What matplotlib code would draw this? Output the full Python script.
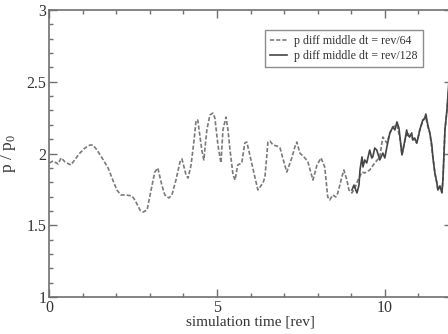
import matplotlib
matplotlib.use("Agg")
import matplotlib.pyplot as plt
from matplotlib.ticker import MultipleLocator

plt.rcParams['font.family'] = ['Liberation Serif', 'DejaVu Serif']
plt.rcParams['mathtext.fontset'] = 'custom'
plt.rcParams['mathtext.rm'] = 'Liberation Serif'

# pressure ratio, time step rev/64
t64 = [0.01, 0.12, 0.27, 0.36, 0.48, 0.65, 0.74, 0.92, 1.07, 1.22, 1.31, 1.43, 1.58, 1.76,
       1.90, 2.02, 2.14, 2.29, 2.47, 2.56, 2.71, 2.80, 2.92, 3.07, 3.15, 3.24, 3.36, 3.45,
       3.57, 3.66, 3.78, 3.90, 3.96, 4.08, 4.14, 4.23, 4.32, 4.38, 4.43, 4.55, 4.61, 4.70,
       4.79, 4.88, 4.94, 5.03, 5.12, 5.18, 5.27, 5.33, 5.39, 5.48, 5.54, 5.62, 5.74, 5.83,
       5.89, 5.98, 6.13, 6.22, 6.37, 6.43, 6.52, 6.58, 6.67, 6.79, 6.88, 6.96, 7.08, 7.23,
       7.32, 7.38, 7.47, 7.62, 7.71, 7.86, 7.98, 8.10, 8.21, 8.30, 8.36, 8.45, 8.54, 8.60,
       8.72, 8.78, 8.87, 8.93, 9.02, 9.11, 9.20, 9.32, 9.40, 9.55, 9.70, 9.85, 9.94, 10.06,
       10.15, 10.24, 10.36, 10.45, 10.51, 10.60, 10.68, 10.74, 10.83, 10.95, 11.04, 11.13,
       11.22, 11.28, 11.34, 11.43, 11.49, 11.55, 11.58, 11.64, 11.70, 11.73, 11.79, 11.85, 11.90]
p64 = [1.934, 1.948, 1.927, 1.969, 1.941, 1.920, 1.948, 2.003, 2.038, 2.059, 2.059, 2.024,
       1.969, 1.899, 1.815, 1.746, 1.711, 1.711, 1.704, 1.676, 1.606, 1.592, 1.606, 1.780,
       1.871, 1.899, 1.780, 1.711, 1.690, 1.711, 1.815, 1.941, 1.962, 1.850, 1.829, 1.920,
       2.094, 2.233, 2.233, 2.024, 1.955, 2.164, 2.268, 2.282, 2.247, 2.059, 1.934, 2.164,
       2.254, 2.164, 2.024, 1.850, 1.815, 1.920, 1.934, 2.073, 2.080, 1.990, 1.836, 1.746,
       1.794, 1.836, 2.080, 2.087, 2.059, 2.052, 2.038, 1.969, 1.871, 1.969, 2.045, 2.080,
       2.003, 1.969, 1.941, 1.815, 1.920, 1.969, 1.906, 1.697, 1.676, 1.711, 1.697, 1.725,
       1.836, 1.885, 1.815, 1.746, 1.725, 1.760, 1.815, 1.871, 1.864, 1.885, 1.934, 1.976,
       2.115, 2.073, 2.143, 2.185, 2.199, 2.108, 1.990, 2.094, 2.150, 2.115, 2.108, 2.073,
       2.164, 2.226, 2.254, 2.185, 2.143, 1.976, 1.864, 1.794, 1.746, 1.767, 1.732, 1.815,
       2.164, 2.303, 2.443]

# pressure ratio, time step rev/128
t128 = [9.02, 9.08, 9.17, 9.23, 9.26, 9.32, 9.35, 9.40, 9.46, 9.55, 9.61, 9.64, 9.70, 9.76,
        9.85, 9.94, 10.00, 10.06, 10.15, 10.24, 10.30, 10.36, 10.42, 10.45, 10.51, 10.60,
        10.65, 10.68, 10.74, 10.80, 10.83, 10.89, 10.95, 11.01, 11.04, 11.13, 11.19, 11.22,
        11.28, 11.34, 11.40, 11.43, 11.49, 11.55, 11.58, 11.64, 11.70, 11.73, 11.79, 11.85, 11.90]
p128 = [1.746, 1.780, 1.725, 1.780, 1.885, 1.976, 1.906, 1.955, 1.934, 2.024, 1.969, 1.976,
        2.038, 2.024, 1.955, 2.003, 1.969, 2.045, 2.143, 2.185, 2.164, 2.220, 2.178, 2.115,
        1.990, 2.094, 2.164, 2.129, 2.115, 2.143, 2.094, 2.108, 2.073, 2.129, 2.164, 2.233,
        2.247, 2.275, 2.199, 2.143, 2.059, 1.976, 1.864, 1.794, 1.746, 1.774, 1.725, 1.815,
        2.164, 2.303, 2.477]

fig = plt.figure(figsize=(4.48, 3.34), dpi=100)
ax = fig.add_axes([49 / 448, 1 - 297 / 334, 403 / 448, 287 / 334])

ax.plot(t64, p64, color='#7a7a7a', lw=1.2, ls=(0, (2.5, 1.2)),
        label='p diff middle dt = rev/64')
ax.plot(t128, p128, color='#454545', lw=1.2,
        label='p diff middle dt = rev/128')

ax.set_xlim(0, 12)
ax.set_ylim(1, 3)
ax.xaxis.set_major_locator(MultipleLocator(5))
ax.xaxis.set_minor_locator(MultipleLocator(1))
ax.yaxis.set_major_locator(MultipleLocator(0.5))
ax.yaxis.set_minor_locator(MultipleLocator(0.1))
ax.yaxis.set_major_formatter(matplotlib.ticker.FuncFormatter(lambda v, p: f'{v:g}'))

for s in ax.spines.values():
    s.set_color('#707070')
    s.set_linewidth(1.2)
ax.tick_params(which='both', direction='in', top=True, right=True,
               color='#707070', labelcolor='#333333', labelsize=11.5, pad=2)
ax.tick_params(which='major', length=6, width=1.0)
ax.tick_params(which='minor', length=3, width=1.0)

ax.set_xlabel('simulation time [rev]', fontsize=11, color='#333333', labelpad=0)
ax.set_ylabel(r'p / p$_0$', fontsize=12.5, color='#333333', labelpad=6)

leg = ax.legend(loc='upper right', bbox_to_anchor=(423 / 448, 1 - 30 / 334),
                bbox_transform=fig.transFigure, fontsize=8.6, frameon=True,
                fancybox=False, handlelength=1.4, borderpad=0.45,
                labelspacing=0.2, handletextpad=0.6, borderaxespad=0)
leg.get_frame().set_edgecolor('#707070')
leg.get_frame().set_linewidth(1.0)
for txt in leg.get_texts():
    txt.set_color('#333333')

fig.savefig('out.png', dpi=100)
